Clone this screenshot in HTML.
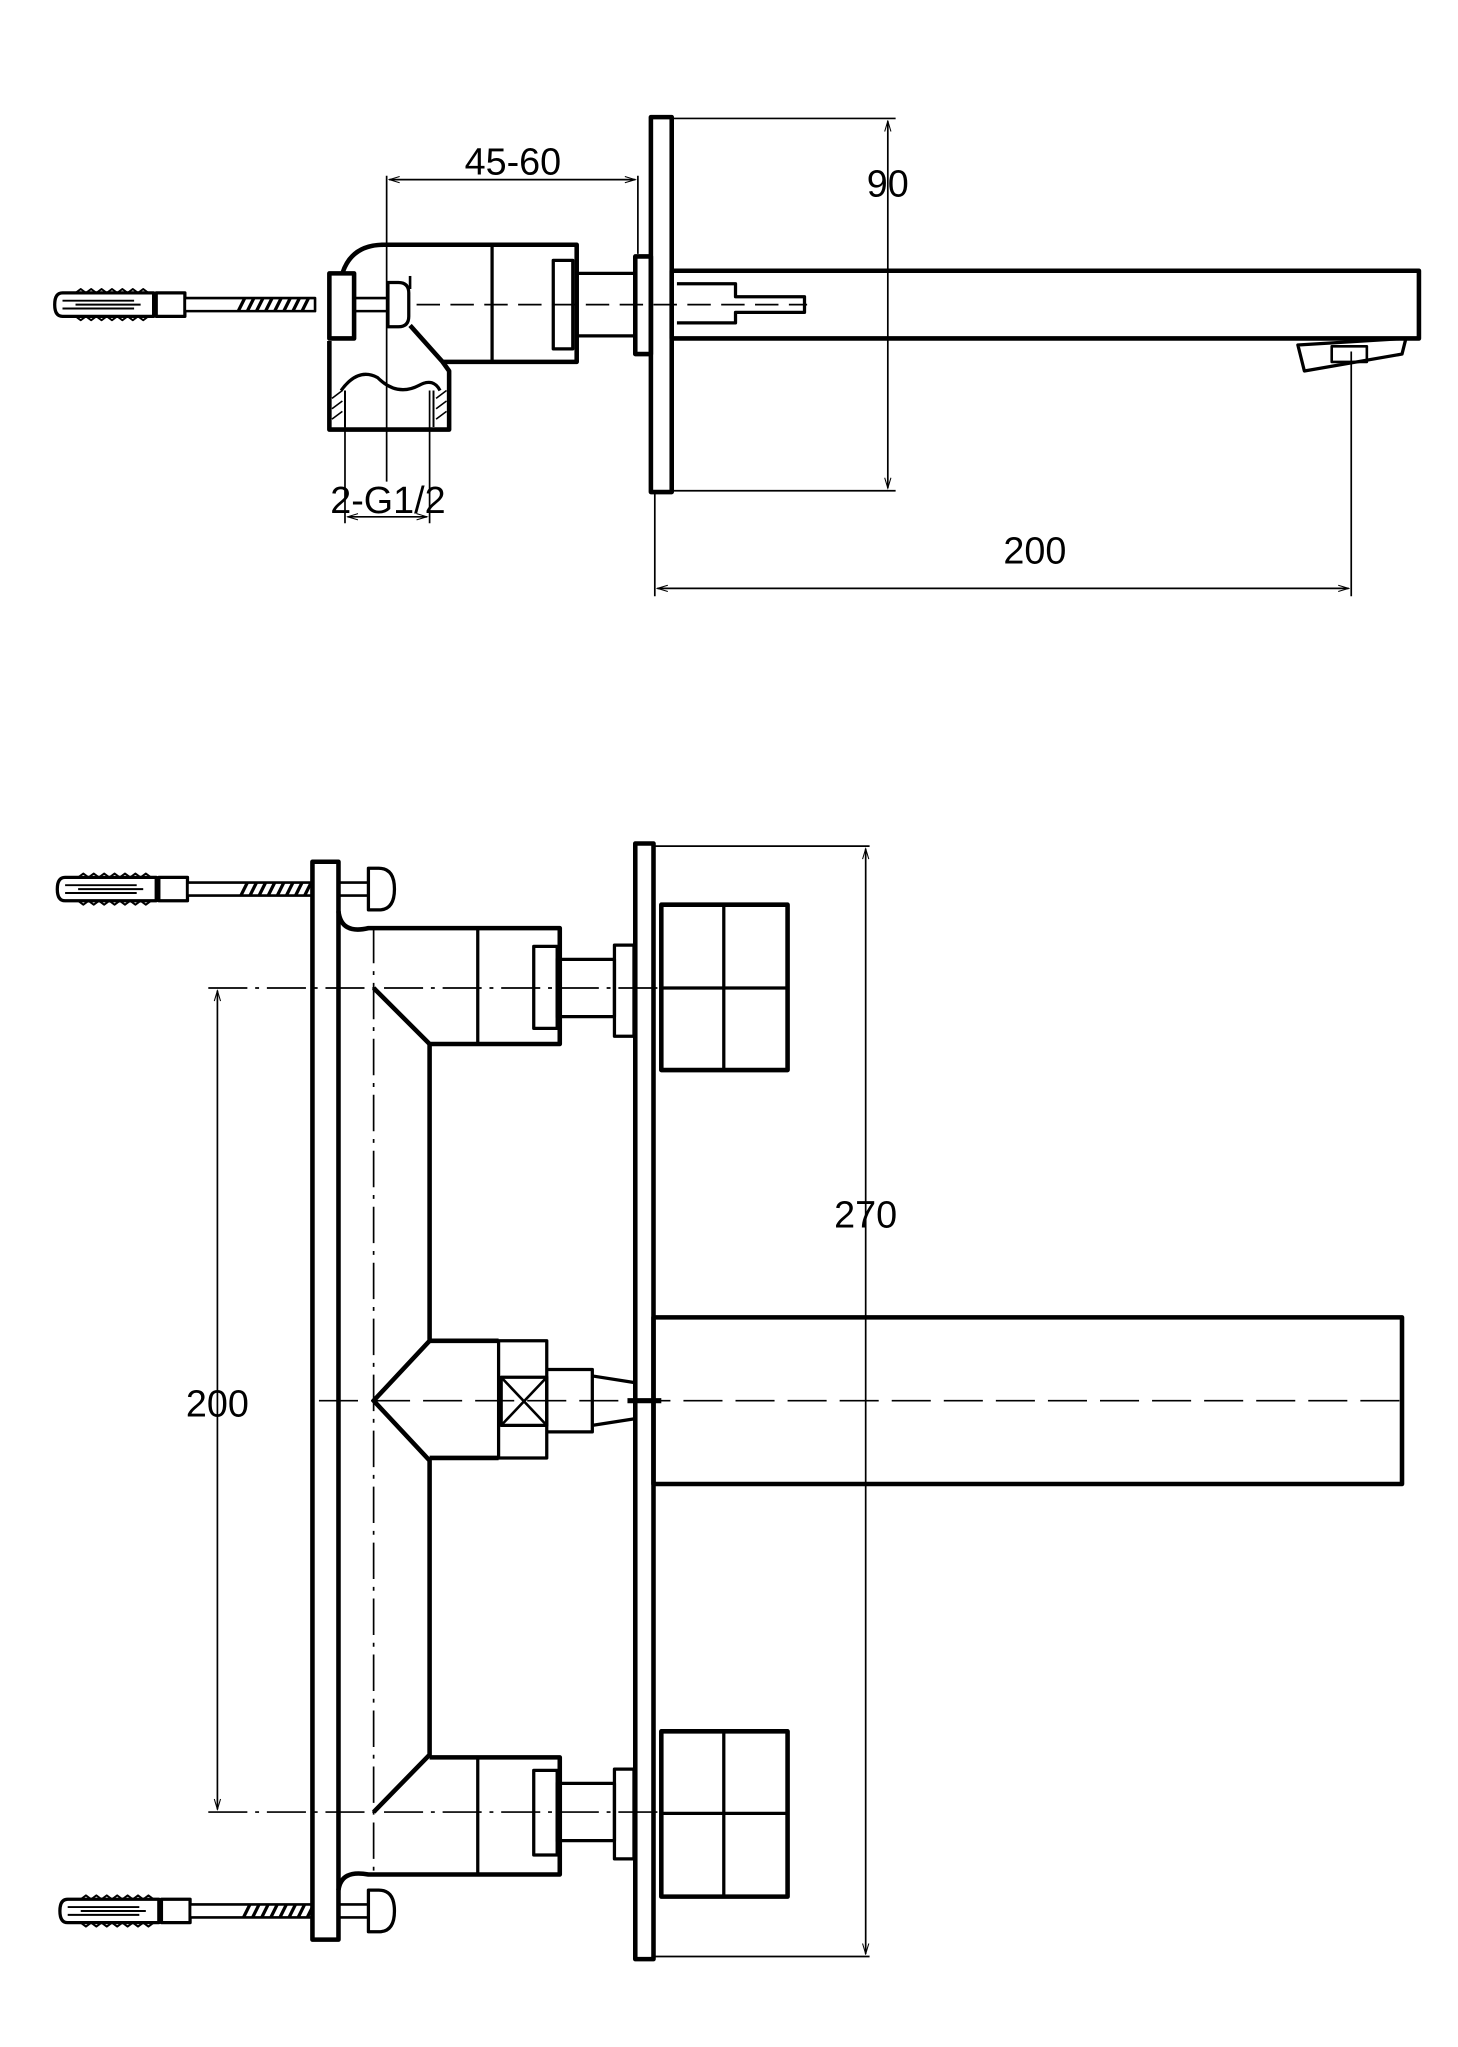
<!DOCTYPE html>
<html><head><meta charset="utf-8"><style>html,body{margin:0;padding:0;background:#fff}svg{display:block}</style></head><body>
<svg width="1458" height="2047" viewBox="0 0 1120 1572.5" xmlns="http://www.w3.org/2000/svg" font-family="Liberation Sans, sans-serif">
<defs>
<marker id="a" viewBox="0 0 10 10" refX="10" refY="5" markerWidth="10" markerHeight="8" orient="auto-start-reverse" markerUnits="userSpaceOnUse"><path d="M0,2 L10,5 L0,8" fill="none" stroke="#000" stroke-width="1"/></marker>
<g id="anchor">
 <path d="M0,-9 L70,-9 L70,9 L0,9 Q-6,9 -6,0 Q-6,-9 0,-9 Z" fill="#fff" stroke="#000" stroke-width="2.5"/>
 <path d="M10,-9 l4,-3 l4,3 l4,-3 l4,3 l4,-3 l4,3 l4,-3 l4,3 l4,-3 l4,3 l4,-3 l4,3 l4,-3 l4,3 M10,9 l4,3 l4,-3 l4,3 l4,-3 l4,3 l4,-3 l4,3 l4,-3 l4,3 l4,-3 l4,3 l4,-3 l4,3 l4,-3" fill="none" stroke="#000" stroke-width="1.5"/>
 <path d="M0,-3 L55,-3 M0,3 L55,3 M10,0 L60,0" stroke="#000" stroke-width="1.5"/>
 <rect x="72" y="-9" width="22" height="18" fill="#fff" stroke="#000" stroke-width="2.5"/>
 <rect x="94" y="-5" width="100" height="10" fill="#fff" stroke="#000" stroke-width="2"/>
 <path d="M135,5 l5,-10 M142,5 l5,-10 M149,5 l5,-10 M156,5 l5,-10 M163,5 l5,-10 M170,5 l5,-10 M177,5 l5,-10 M184,5 l5,-10" stroke="#000" stroke-width="2.5"/>
</g>
</defs>
<g fill="none" stroke="#000" stroke-linejoin="round">
<!-- ===== TOP VIEW ===== -->
<use href="#anchor" x="48" y="234"/>
<rect x="253" y="210" width="19" height="50" fill="#fff" stroke-width="3.5"/>
<path d="M272,229 h25 M272,239 h25" stroke-width="2"/>
<path d="M298,217 h8 q8,0 8,8 v18 q0,8 -8,8 h-8 z" fill="#fff" stroke-width="2.5"/>
<path d="M263,210 Q270,188 295,188 H443 V278 H340 L315,250" stroke-width="3.5"/>
<path d="M315,222 v-10" stroke-width="2"/>
<path d="M253,262 V330 H345 V285 L340,278" stroke-width="3.5"/>
<path d="M262,300 Q275,282 290,290 Q305,305 322,296 Q333,290 338,300" stroke-width="2.5"/>
<path d="M265,300 V328 M333,300 V328" stroke-width="1.5"/>
<path d="M255,306 l8,-6 M255,314 l8,-6 M255,322 l8,-6 M335,306 l8,-6 M335,314 l8,-6 M335,322 l8,-6" stroke-width="1.2"/>
<path d="M378,188 V278" stroke-width="2.5"/>
<rect x="425" y="200" width="15" height="68" stroke-width="2.5"/>
<rect x="443" y="210" width="45" height="48" stroke-width="2.5"/>
<rect x="488" y="197" width="12" height="75" stroke-width="3.5"/>
<rect x="500" y="90" width="16" height="288" stroke-width="3.5"/>
<rect x="516" y="208" width="574" height="52" stroke-width="3.5"/>
<path d="M520,218 H565 V228 H618 V240 H565 V248 H520" stroke-width="2.5"/>
<path d="M997,265 L1080,260 L1077,272 L1002,285 Z" stroke-width="2.5"/>
<rect x="1023" y="266" width="27" height="12" stroke-width="2"/>
<path d="M320,234 H620" stroke-width="1.3" stroke-dasharray="18,8"/>
<g stroke-width="1.3">
<path d="M297,135 V370 M490,135 V195"/>
<path d="M299,138 H488" marker-start="url(#a)" marker-end="url(#a)"/>
<path d="M516,91 H688 M516,377 H688"/>
<path d="M682,93 V375" marker-start="url(#a)" marker-end="url(#a)"/>
<path d="M265,300 V402 M330,300 V402"/>
<path d="M267,397 H328" marker-start="url(#a)" marker-end="url(#a)"/>
<path d="M503,378 V458 M1038,270 V458"/>
<path d="M505,452 H1036" marker-start="url(#a)" marker-end="url(#a)"/>
</g>
<!-- ===== BOTTOM VIEW ===== -->
<use href="#anchor" x="50" y="683"/>
<use href="#anchor" x="52" y="1468"/>
<rect x="240" y="662" width="20" height="828" fill="#fff" stroke-width="3.5"/>
<path d="M260,678 h23 M260,688 h23 M260,1463 h23 M260,1473 h23" stroke-width="2"/>
<path d="M283,667 h8 q12,0 12,16 q0,16 -12,16 h-8 z" fill="#fff" stroke-width="2.5"/>
<path d="M283,1452 h8 q12,0 12,16 q0,16 -12,16 h-8 z" fill="#fff" stroke-width="2.5"/>
<path d="M260,700 Q262,718 283,713 H430 V802 H330 L287,759" stroke-width="3.5"/>
<path d="M330,802 V1030 L287,1076 L330,1122 V1348 L287,1392" stroke-width="3.5"/>
<path d="M330,1350 H430 V1440 H283 Q262,1436 260,1452" stroke-width="3.5"/>
<path d="M367,713 V802 M367,1350 V1440" stroke-width="2.5"/>
<path d="M330,1030 H383 M330,1120 H383" stroke-width="3.5"/>
<rect x="383" y="1030" width="37" height="90" stroke-width="2.5"/>
<rect x="385" y="1058" width="35" height="37" stroke-width="2.5"/>
<path d="M385,1058 L420,1095 M420,1058 L385,1095" stroke-width="2"/>
<path d="M420,1052 H455 V1100 H420 M455,1057 L487,1062 M455,1095 L487,1090" stroke-width="2.5"/>
<rect x="410" y="727" width="18" height="63" stroke-width="2.5"/>
<rect x="428" y="737" width="44" height="44" stroke-width="2.5"/>
<rect x="472" y="726" width="15" height="70" stroke-width="2.5"/>
<rect x="410" y="1360" width="18" height="65" stroke-width="2.5"/>
<rect x="428" y="1370" width="44" height="44" stroke-width="2.5"/>
<rect x="472" y="1359" width="15" height="69" stroke-width="2.5"/>
<rect x="488" y="648" width="14" height="857" fill="#fff" stroke-width="3.5"/>
<rect x="508" y="695" width="97" height="127" stroke-width="3.5"/>
<path d="M556,695 V822 M508,759 H605" stroke-width="2.5"/>
<rect x="508" y="1330" width="97" height="127" stroke-width="3.5"/>
<path d="M556,1330 V1457 M508,1393 H605" stroke-width="2.5"/>
<rect x="502" y="1012" width="575" height="128" stroke-width="3.5"/>
<path d="M482,1076 H508" stroke-width="4"/>
<g stroke-width="1.3">
<path d="M287,712 V1440" stroke-dasharray="28,6,3,6"/>
<path d="M245,1076 H1077" stroke-dasharray="30,10"/>
<path d="M160,759 H510" stroke-dasharray="30,6,3,6"/>
<path d="M160,1392 H510" stroke-dasharray="30,6,3,6"/>
<path d="M502,650 H668 M502,1503 H668"/>
<path d="M665,652 V1501" marker-start="url(#a)" marker-end="url(#a)"/>
<path d="M167,761 V1390" marker-start="url(#a)" marker-end="url(#a)"/>
</g>
</g>
<g font-size="29" fill="#000" text-anchor="middle">
<text x="394" y="134">45-60</text>
<text x="682" y="151">90</text>
<text x="298" y="394">2-G1/2</text>
<text x="795" y="433">200</text>
<text x="665" y="943">270</text>
<text x="167" y="1088">200</text>
</g>
</svg>
</body></html>
